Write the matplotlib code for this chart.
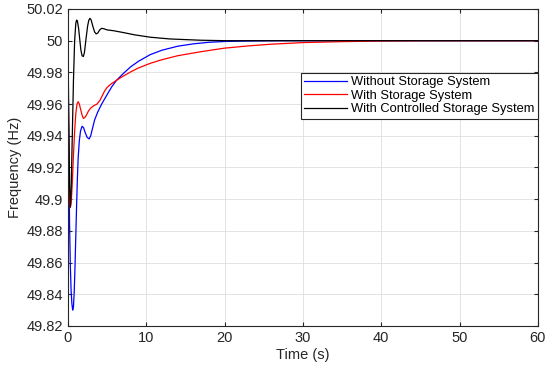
import matplotlib
matplotlib.use("Agg")
import matplotlib.pyplot as plt

# ---------- DATA ----------
t_without = [0.0, 0.1, 0.2, 0.3, 0.4, 0.5, 0.6, 0.7, 0.8, 0.9, 1.0, 1.1, 1.2, 1.3, 1.45,
             1.6, 1.8, 2.0, 2.2, 2.45, 2.7, 2.9, 3.1, 3.4, 3.8, 4.3, 5.0, 5.6, 6.2, 7.0,
             8.0, 9.0, 10.5, 12, 14, 16, 18, 20, 23, 27, 60]
f_without = [50.0, 49.93, 49.885, 49.858, 49.842, 49.834, 49.830, 49.832, 49.842, 49.858,
             49.877, 49.896, 49.913, 49.926, 49.937, 49.943, 49.946, 49.945, 49.942,
             49.939, 49.938, 49.940, 49.944, 49.950, 49.955, 49.960, 49.966, 49.971,
             49.975, 49.979, 49.9835, 49.987, 49.9912, 49.9940, 49.9965, 49.9980,
             49.9990, 49.9995, 49.9998, 50.0, 50.0]

t_with = [0.0, 0.1, 0.2, 0.3, 0.4, 0.55, 0.7, 0.85, 1.0, 1.15, 1.3, 1.45, 1.6, 1.8, 1.96,
          2.15, 2.35, 2.6, 2.9, 3.3, 3.7, 4.1, 4.4, 4.7, 5.0, 5.5, 6.2, 7.0, 8.0, 9.0,
          10.5, 12, 14, 16.9, 20, 23, 26, 30, 35, 40, 45, 60]
f_with = [50.0, 49.93, 49.90, 49.895, 49.897, 49.91, 49.928, 49.943, 49.954, 49.960,
          49.9615, 49.960, 49.957, 49.953, 49.951, 49.9515, 49.953, 49.9555, 49.9575,
          49.959, 49.960, 49.9625, 49.9655, 49.9685, 49.9705, 49.9727, 49.975, 49.9775,
          49.9803, 49.9828, 49.9857, 49.988, 49.9905, 49.993, 49.9953, 49.9967,
          49.9978, 49.9988, 49.9994, 49.9998, 50.0, 50.0]

t_ctrl = [0.0, 0.1, 0.2, 0.3, 0.4, 0.55, 0.7, 0.85, 1.0, 1.1, 1.2, 1.35, 1.5, 1.65, 1.8,
          1.96, 2.1, 2.3, 2.5, 2.65, 2.8, 2.95, 3.15, 3.4, 3.6, 3.8, 4.05, 4.3, 4.6, 5.0,
          5.8, 7.0, 8.5, 10.5, 13, 16.9, 20, 60]
f_ctrl = [50.0, 49.95, 49.91, 49.895, 49.905, 49.94, 49.975, 50.0, 50.011, 50.013,
          50.0125, 50.008, 50.001, 49.994, 49.9905, 49.990, 49.9925, 50.001, 50.009,
          50.0128, 50.0141, 50.0132, 50.0095, 50.0055, 50.0043, 50.0048, 50.0068,
          50.0078, 50.0075, 50.0068, 50.0063, 50.0052, 50.0037, 50.0022, 50.0011,
          50.0003, 50.0, 50.0]

labels = ["Without Storage System", "With Storage System", "With Controlled Storage System"]
x_ticks = [0, 10, 20, 30, 40, 50, 60]
y_ticks = [49.82, 49.84, 49.86, 49.88, 49.9, 49.92, 49.94, 49.96, 49.98, 50, 50.02]
y_ticklabels = ["49.82", "49.84", "49.86", "49.88", "49.9", "49.92", "49.94", "49.96",
                "49.98", "50", "50.02"]

# ---------- PLOT ----------
plt.rcParams["font.family"] = ["Liberation Sans", "DejaVu Sans"]

fig = plt.figure(figsize=(5.5, 3.7), dpi=100)
ax = fig.add_axes([0.1236, 0.119, 0.978 - 0.1236, 0.9757 - 0.119])

ax.plot(t_without, f_without, color="#0000ff", lw=0.9, label=labels[0])
ax.plot(t_with, f_with, color="#ff0000", lw=0.9, label=labels[1])
ax.plot(t_ctrl, f_ctrl, color="black", lw=0.9, label=labels[2])

ax.set_xlim(0, 60)
ax.set_ylim(49.82, 50.02)
ax.set_xticks(x_ticks)
ax.set_yticks(y_ticks)
ax.set_yticklabels(y_ticklabels)
ax.tick_params(direction="in", top=True, right=True, labelsize=10.5, length=3,
               color="#262626", labelcolor="#262626")
ax.grid(True, color="#dedede", lw=0.6)
for s in ax.spines.values():
    s.set_color("#262626")
    s.set_linewidth(0.8)

ax.set_xlabel("Time (s)", fontsize=10.5, color="#262626", labelpad=2)
ax.set_ylabel("Frequency (Hz)", fontsize=10.5, color="#262626", labelpad=3)

leg = ax.legend(loc="upper right", bbox_to_anchor=(1.0, 0.798), borderaxespad=0,
                fontsize=9.3, frameon=True, fancybox=False, handlelength=3.3,
                handletextpad=0.35, labelspacing=0.12, borderpad=0.25)
leg.get_frame().set_edgecolor("#262626")
leg.get_frame().set_linewidth(0.8)
leg.get_frame().set_alpha(1.0)

plt.savefig("out.png", dpi=100)
plt.close()
